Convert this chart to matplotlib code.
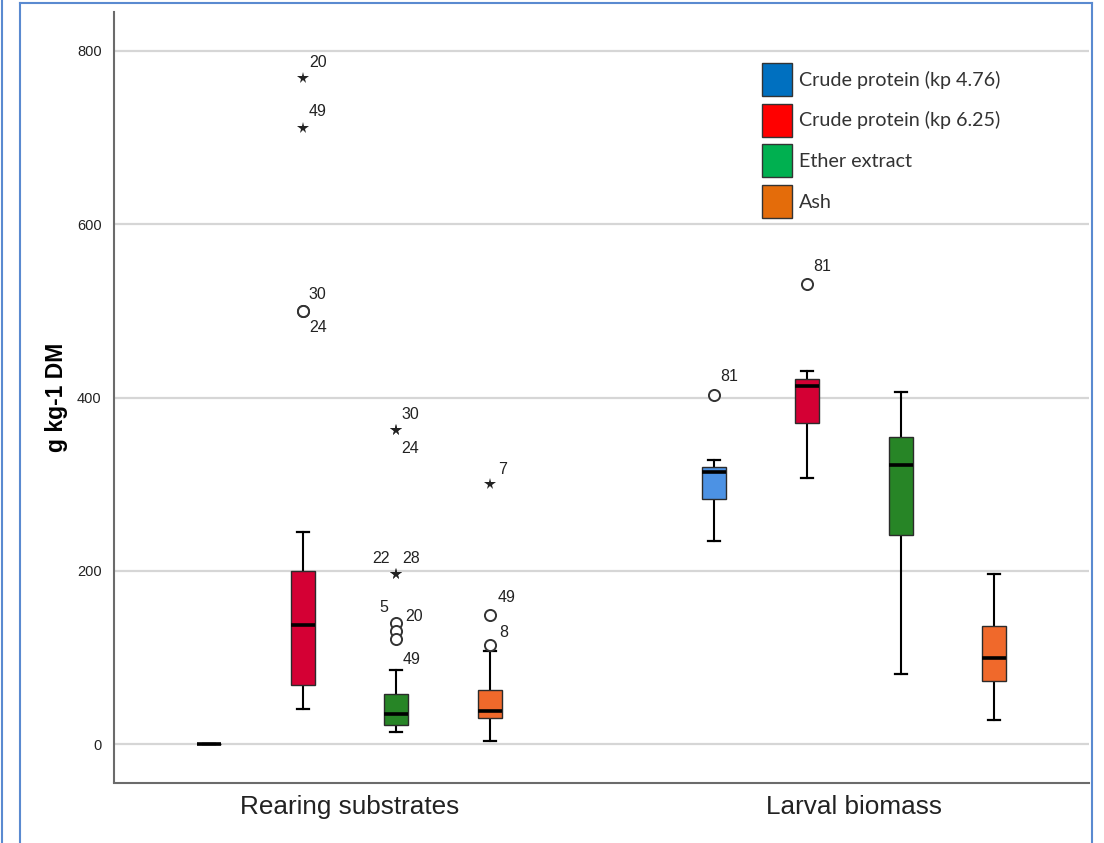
import matplotlib
matplotlib.use("Agg")
import matplotlib.pyplot as plt
from matplotlib.patches import Patch
from matplotlib.lines import Line2D

# ---------------- data ----------------
categories = ["Rearing substrates", "Larval biomass"]
series = ["Crude protein (kp 4.76)", "Crude protein (kp 6.25)", "Ether extract", "Ash"]

rearing_whislo = [0, 41, 14, 4]
rearing_q1 = [0, 69, 22, 30]
rearing_med = [0, 138, 35, 39]
rearing_q3 = [0, 200, 58, 63]
rearing_whishi = [0, 245, 86, 108]

larval_whislo = [234, 307, 81, 28]
larval_q1 = [283, 371, 242, 73]
larval_med = [314, 413, 322, 100]
larval_q3 = [320, 421, 354, 137]
larval_whishi = [328, 431, 406, 197]

# outliers: category index, series index, value, kind ('o' outlier, '*' extreme), case label
outlier_category = [0, 0, 0, 0, 0, 0, 0, 0, 0, 0, 0, 0, 0, 0, 1, 1]
outlier_series = [1, 1, 1, 1, 2, 2, 2, 2, 2, 2, 2, 3, 3, 3, 0, 1]
outlier_value = [768, 711, 500, 500, 362, 362, 196, 196, 140, 131, 121, 300, 149, 114, 403, 531]
outlier_kind = ['*', '*', 'o', 'o', '*', '*', '*', '*', 'o', 'o', 'o', '*', 'o', 'o', 'o', 'o']
outlier_label = ["20", "49", "30", "24", "30", "24", "22", "28", "5", "20", "49", "7", "49", "8", "81", "81"]

yticks = [0, 200, 400, 600, 800]
ylabel = "g kg-1 DM"

# ---------------- style ----------------
box_colors = ['#4C92E4', '#D40034', '#278526', '#F0692B']
legend_colors = ['#0070C0', '#FF0000', '#00B050', '#E46C0A']
label_offsets = [(15, 16), (15, 16), (15, 16), (15, -17), (14, 16), (14, -18),
                 (-15, 16), (15, 16), (-12, 15), (18, 14), (15, -20), (13, 15),
                 (17, 18), (14, 13), (15, 18), (15, 17)]
spacing = 0.1853
offsets = [-1.5 * spacing, -0.5 * spacing, 0.5 * spacing, 1.5 * spacing]
box_width = 0.0476
cap_width = 0.0238

W, H = 1104, 843
fig = plt.figure(figsize=(W / 100, H / 100), dpi=100)
ax = fig.add_axes([114 / W, 1 - 782.5 / H, (1089 - 114) / W, (782.5 - 12) / H])

stats_by_cat = [
    (rearing_whislo, rearing_q1, rearing_med, rearing_q3, rearing_whishi),
    (larval_whislo, larval_q1, larval_med, larval_q3, larval_whishi),
]

for ci, (wlo, q1, med, q3, whi) in enumerate(stats_by_cat):
    for si in range(len(series)):
        st = [dict(whislo=wlo[si], q1=q1[si], med=med[si], q3=q3[si], whishi=whi[si], fliers=[])]
        res = ax.bxp(st, positions=[ci + offsets[si]], widths=box_width, capwidths=cap_width,
                     patch_artist=True, showfliers=False, manage_ticks=False,
                     boxprops=dict(facecolor=box_colors[si], edgecolor='#2b2b2b', linewidth=1.0),
                     medianprops=dict(color='black', linewidth=2.6, solid_capstyle='butt'),
                     whiskerprops=dict(color='black', linewidth=1.5),
                     capprops=dict(color='black', linewidth=1.6))
        for b in res['boxes']:
            b.set_zorder(3)
        for k in ('whiskers', 'caps'):
            for l in res[k]:
                l.set_zorder(2.5)
        for l in res['medians']:
            l.set_zorder(4)

for i in range(len(outlier_value)):
    x = outlier_category[i] + offsets[outlier_series[i]]
    v = outlier_value[i]
    if outlier_kind[i] == 'o':
        ax.plot([x], [v], marker='o', markersize=8, markerfacecolor='white',
                markeredgecolor='#333333', markeredgewidth=1.4, linestyle='none', zorder=5)
    else:
        ax.plot([x], [v], marker='*', markersize=8.5, color='#222222',
                markeredgewidth=0, linestyle='none', zorder=5)
    ax.annotate(outlier_label[i], xy=(x, v), xytext=label_offsets[i],
                textcoords='offset pixels', ha='center', va='center',
                fontsize=11.5, family='Liberation Sans', color='#222222', zorder=6)

ax.set_xlim(-0.4668, 1.4658)
ax.set_ylim(-44, 844.6)
ax.set_yticks(yticks)
ax.set_yticklabels([str(t) for t in yticks], family='Liberation Sans', fontsize=10.5, color='#222222')
ax.set_xticks([0, 1])
ax.set_xticklabels(categories, family='Liberation Sans', fontsize=18.8, color='#222222')
ax.tick_params(axis='y', length=0, pad=9)
ax.tick_params(axis='x', length=0, pad=9)
ax.yaxis.grid(True, color='#d6d6d6', linewidth=1.6)
ax.set_axisbelow(True)
for s in ('top', 'right'):
    ax.spines[s].set_visible(False)
for s in ('left', 'bottom'):
    ax.spines[s].set_color('#6b6b6b')
    ax.spines[s].set_linewidth(1.5)

ax.set_ylabel(ylabel, family='Liberation Sans', fontweight='bold', fontsize=16.5, va='center')
ax.yaxis.set_label_coords(-0.0585, 0.5)

handles = [Patch(facecolor=c, edgecolor='#333333', linewidth=1.0) for c in legend_colors]
leg = ax.legend(handles, series, loc='upper left', bbox_to_anchor=(762 / W, 1 - 63 / H),
                bbox_transform=fig.transFigure, frameon=False, borderpad=0, borderaxespad=0,
                prop=dict(family='Lato', size=14.2), handlelength=1.52, handleheight=2.22,
                handletextpad=0.34, labelspacing=0.37)
for t in leg.get_texts():
    t.set_color('#333333')

# outer frame lines of the screenshot
fc = '#5a8ad0'
fig.add_artist(Line2D([1.7 / W, 1.7 / W], [0, 1], transform=fig.transFigure, color=fc, lw=1.5))
fig.add_artist(Line2D([20 / W, 20 / W], [0, 1 - 3.3 / H], transform=fig.transFigure, color=fc, lw=1.5))
fig.add_artist(Line2D([1092 / W, 1092 / W], [0, 1 - 3.3 / H], transform=fig.transFigure, color=fc, lw=1.5))
fig.add_artist(Line2D([20 / W, 1092 / W], [1 - 3.3 / H, 1 - 3.3 / H], transform=fig.transFigure, color=fc, lw=1.5))

fig.savefig("out.png", dpi=100)
